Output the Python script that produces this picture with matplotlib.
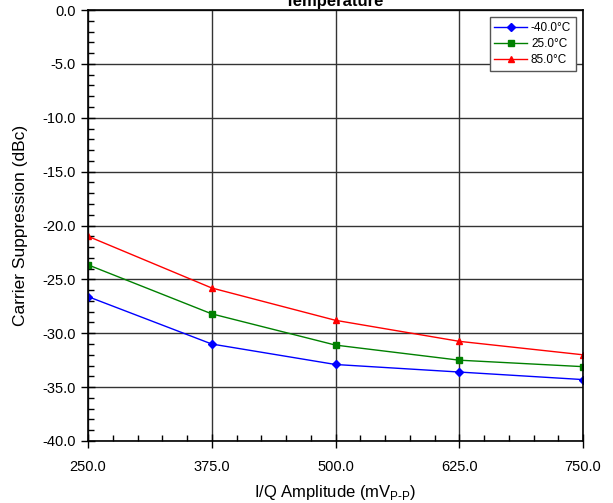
import matplotlib
matplotlib.use('Agg')
import matplotlib.pyplot as plt
from matplotlib.ticker import MultipleLocator, FormatStrFormatter

plt.rcParams['font.family'] = ['Liberation Sans', 'DejaVu Sans']
plt.rcParams['mathtext.fontset'] = 'custom'
plt.rcParams['mathtext.rm'] = 'Liberation Sans'

amplitude = [250.0, 375.0, 500.0, 625.0, 750.0]
temps = ['-40.0°C', '25.0°C', '85.0°C']
supp_m40 = [-26.6, -31.0, -32.9, -33.6, -34.3]
supp_25 = [-23.65, -28.2, -31.1, -32.5, -33.1]
supp_85 = [-21.0, -25.8, -28.8, -30.75, -32.0]

fig = plt.figure(figsize=(6.13, 5.03), dpi=100)
ax = fig.add_axes([88 / 613, 1 - 441 / 503, (583 - 88) / 613, (441 - 10) / 503])

ax.plot(amplitude, supp_m40, color='blue', marker='D', markersize=4, lw=1, label=temps[0])
ax.plot(amplitude, supp_25, color='green', marker='s', markersize=5, lw=1, label=temps[1])
ax.plot(amplitude, supp_85, color='red', marker='^', markersize=5, lw=1, label=temps[2])

ax.set_xlim(250, 750)
ax.set_ylim(-40, 0)
ax.xaxis.set_major_locator(MultipleLocator(125))
ax.xaxis.set_minor_locator(MultipleLocator(25))
ax.yaxis.set_major_locator(MultipleLocator(5))
ax.yaxis.set_minor_locator(MultipleLocator(1))
ax.xaxis.set_major_formatter(FormatStrFormatter('%.1f'))
ax.yaxis.set_major_formatter(FormatStrFormatter('%.1f'))
ax.tick_params(which='major', direction='inout', length=10, width=1, labelsize=10.5, color='black')
ax.tick_params(which='minor', direction='in', length=4, width=1, color='black')
ax.tick_params(axis='x', which='major', pad=9)
ax.tick_params(axis='y', which='major', pad=4)
ax.grid(True, which='major', color='#333333', lw=1)
for s in ax.spines.values():
    s.set_color('black')
    s.set_linewidth(1.2)

ax.set_xlabel('I/Q Amplitude (mV$_{\\mathregular{P\\text{-}P}}$)', fontsize=12, labelpad=6)
ax.set_ylabel('Carrier Suppression (dBc)', fontsize=12.5, labelpad=10)
fig.text(335 / 613, 0.997, 'Temperature', ha='center', va='center', fontsize=12, fontweight='bold')

leg = ax.legend(loc='upper right', fontsize=8.5, fancybox=False, edgecolor='#555555',
                framealpha=1, handlelength=2.8, handletextpad=0.3, borderaxespad=0.6,
                labelspacing=0.35, borderpad=0.4)
leg.get_frame().set_linewidth(1)

fig.savefig('out.png', dpi=100)
